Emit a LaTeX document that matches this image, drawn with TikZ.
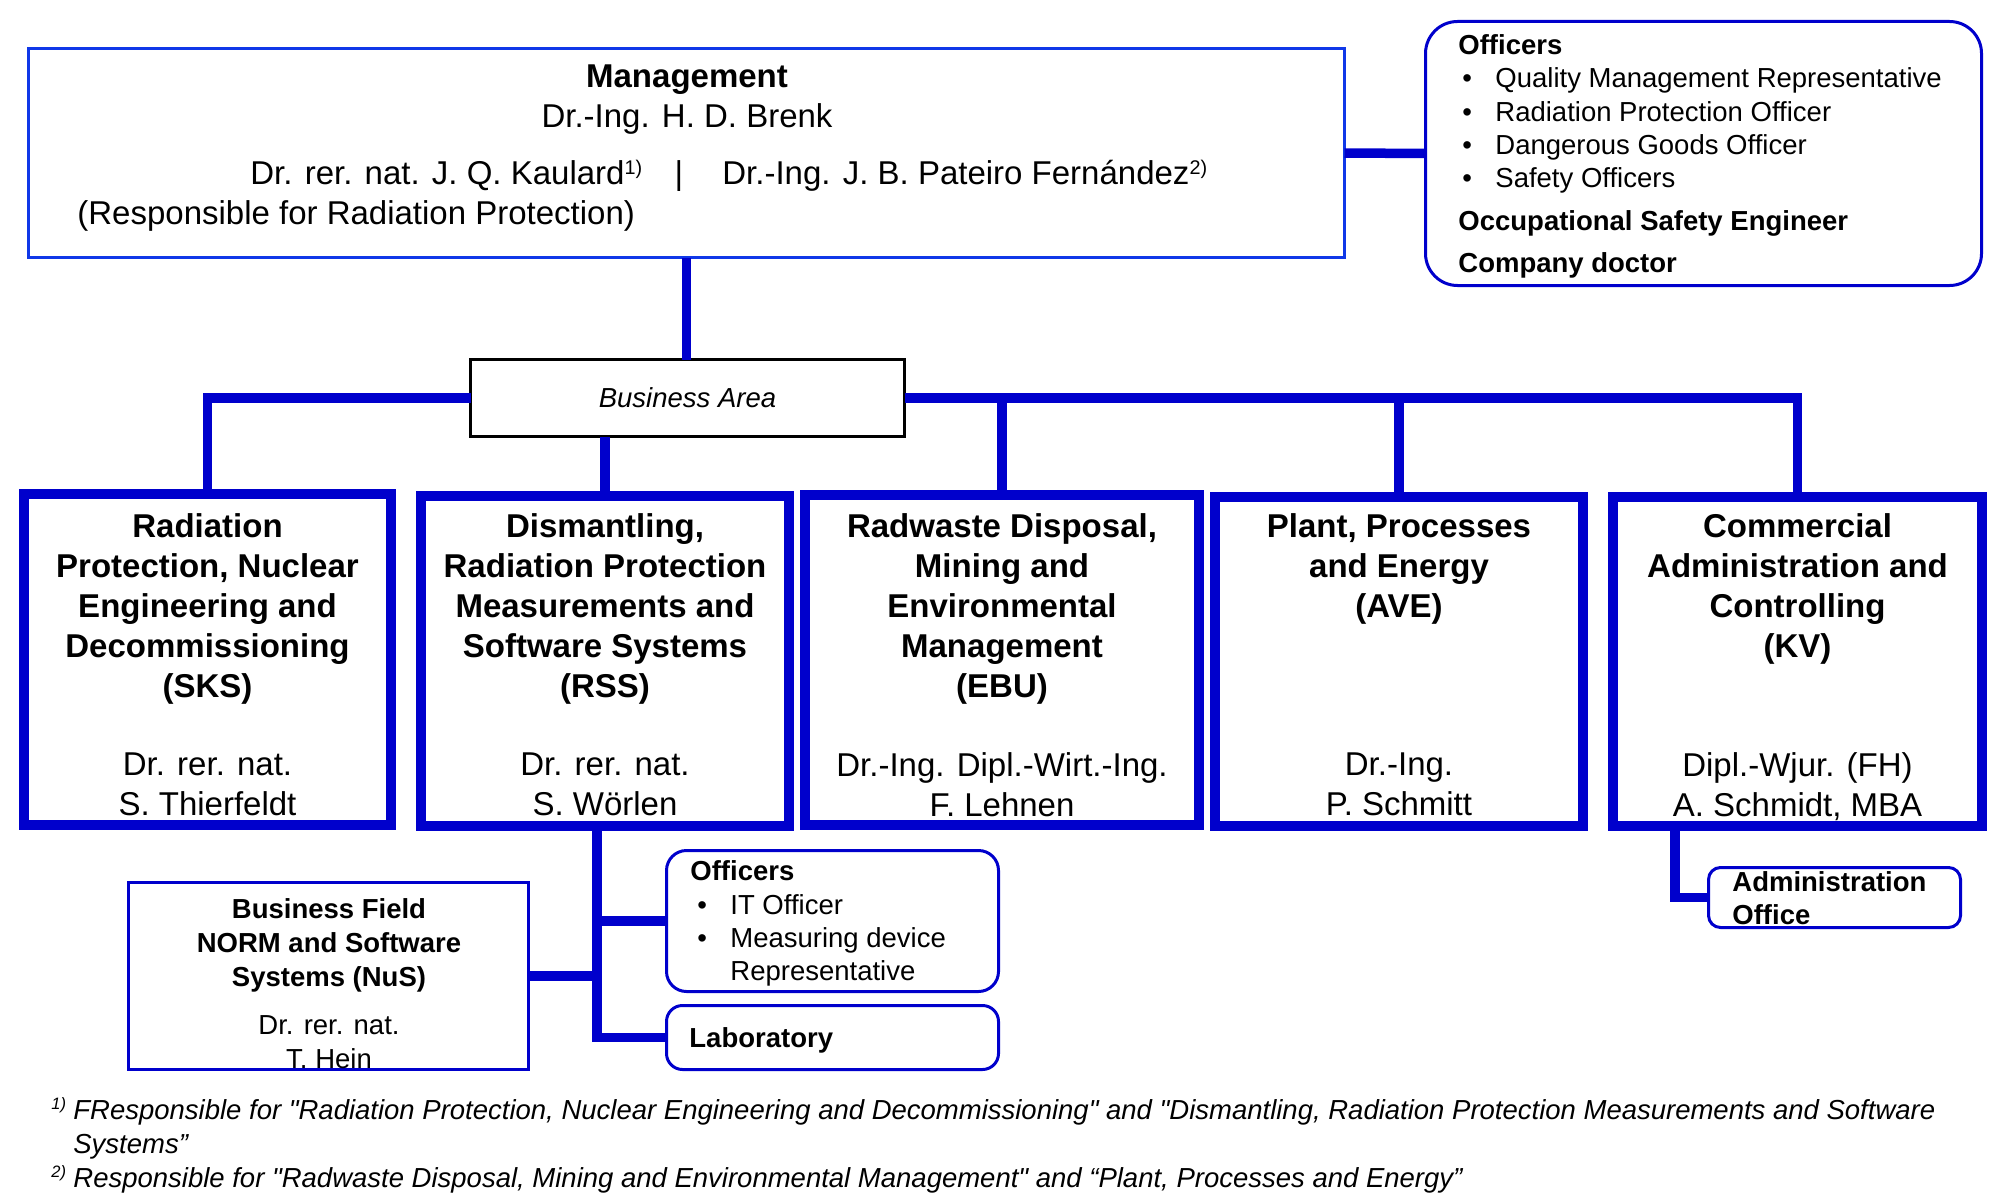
\documentclass[tikz,border=0pt]{standalone}
\usepackage{fontspec}
\setmainfont{Liberation Sans}
\newfontfamily\fnfont{Liberation Sans}[Ligatures=TeXOff]
\usepackage{graphicx}
\definecolor{dblue}{RGB}{0,0,204}
\definecolor{mblue}{RGB}{16,56,232}
\newcommand\bigf{\fontsize{16.5pt}{20pt}\selectfont}
\newcommand\smf{\fontsize{13.75pt}{17pt}\selectfont}
\newcommand\supx[1]{\raisebox{0.33em}{\scalebox{0.6}{#1}}}
\begin{document}
\begin{tikzpicture}[x=0.5pt,y=-0.5pt,
  thickbox/.style={draw=dblue, line width=5pt, rectangle, inner sep=0pt, outer sep=0pt, fill=white},
  thinbox/.style={draw=dblue, line width=1.5pt, rectangle, inner sep=0pt, outer sep=0pt, fill=white},
  conn/.style={draw=dblue, line width=4.75pt},
  title/.style={anchor=north, align=center, inner sep=0pt, font=\bigf\bfseries},
  person/.style={anchor=north, align=center, inner sep=0pt, font=\bigf},
  txt/.style={anchor=base west, inner sep=0pt, font=\smf},
  btxt/.style={anchor=base west, inner sep=0pt, font=\smf\bfseries},
  itxt/.style={anchor=base west, inner sep=0pt, font=\fnfont\smf\itshape},
  mtxt/.style={anchor=base west, inner sep=0pt, font=\bigf}
]
\fill[white] (0,0) rectangle (2000,1198);
\useasboundingbox (0,0) rectangle (2000,1198);

% ---------- boxes ----------
\node[thinbox, draw=mblue, minimum width=658pt, minimum height=104.5pt] (mgmt) at (686.5,153) {};
\node[thinbox, rounded corners=16pt, minimum width=278pt, minimum height=132pt] (offtop) at (1703.5,153.5) {};
\node[thinbox, draw=black, minimum width=217pt, minimum height=38.5pt, font=\smf\itshape] (biz) at (687.5,398) {Business Area};

\node[thickbox, minimum width=183.5pt, minimum height=165.5pt] (sks) at (207.5,659.5) {};
\node[thickbox, minimum width=184pt, minimum height=165pt] (rss) at (605,661) {};
\node[thickbox, minimum width=197pt, minimum height=165pt] (ebu) at (1002,660) {};
\node[thickbox, minimum width=184pt, minimum height=164.5pt] (ave) at (1399,661.5) {};
\node[thickbox, minimum width=184.5pt, minimum height=164.5pt] (kv) at (1797.5,661.5) {};

\node[thinbox, minimum width=200pt, minimum height=93.5pt] (nus) at (328.5,976) {};
\node[thinbox, rounded corners=10pt, minimum width=166pt, minimum height=70.5pt] (offrss) at (832.5,921) {};
\node[thinbox, rounded corners=8pt, minimum width=166pt, minimum height=32pt] (lab) at (832.5,1037.5) {};
\node[thinbox, rounded corners=6pt, minimum width=126pt, minimum height=30pt] (admin) at (1834.5,897.5) {};

% ---------- connectors ----------
\draw[conn] (mgmt.east) -- (offtop.west);
\draw[conn] (mgmt.south) -- (mgmt.south |- biz.north);
\draw[conn] (biz.west) -| (sks.north);
\draw[conn] (biz.east) -| (kv.north);
\draw[conn] (rss.north) -- (rss.north |- biz.south);
\draw[conn] (ebu.north) -- (ebu.north |- biz.east);
\draw[conn] (ave.north) -- (ave.north |- biz.east);
\coordinate (rssdrop) at ([xshift=-4pt]rss.south);
\draw[conn] (rssdrop) |- (lab.west);
\draw[conn] (rssdrop |- offrss.west) -- (offrss.west);
\draw[conn] (nus.east) -- (nus.east -| rssdrop);
\coordinate (kvdrop) at ([xshift=31pt]kv.south west);
\draw[conn] (kvdrop) |- (admin.west);

% ---------- management text ----------
\node[anchor=north, align=center, inner sep=0pt, font=\bigf] (mg1) at (687,64) {\textbf{Management}\\Dr.-Ing. H. D. Brenk};
\node[mtxt] (mg2) at (250,185) {Dr. rer. nat. J. Q. Kaulard\supx{1)}};
\node[anchor=base, inner sep=0pt, font=\bigf] (mg3) at (679,185) {|};
\node[mtxt] (mg4) at (722,185) {Dr.-Ing. J. B. Pateiro Fernández\supx{2)}};
\node[mtxt] (mg5) at (77,225) {(Responsible for Radiation Protection)};

% ---------- top officers ----------
\node[btxt] (o0) at (1458,55) {Officers};
\node[txt] (ob1) at (1462,88) {•};
\node[txt] (o1) at (1495,88) {Quality Management Representative};
\node[txt] (ob2) at (1462,122) {•};
\node[txt] (o2) at (1495,122) {Radiation Protection Officer};
\node[txt] (ob3) at (1462,155) {•};
\node[txt] (o3) at (1495,155) {Dangerous Goods Officer};
\node[txt] (ob4) at (1462,188) {•};
\node[txt] (o4) at (1495,188) {Safety Officers};
\node[btxt] (o5) at (1458,230) {Occupational Safety Engineer};
\node[btxt] (o6) at (1458,272) {Company doctor};

% ---------- department texts ----------
\node[title] (sksT) at (207.5,513) {Radiation\\Protection, Nuclear\\Engineering and\\Decommissioning\\(SKS)};
\node[person] (sksP) at (207.5,752) {Dr. rer. nat.\\S. Thierfeldt};
\node[title] (rssT) at (605,513) {Dismantling,\\Radiation Protection\\Measurements and\\Software Systems\\(RSS)};
\node[person] (rssP) at (605,752) {Dr. rer. nat.\\S. Wörlen};
\node[title] (ebuT) at (1002,513) {Radwaste Disposal,\\Mining and\\Environmental\\Management\\(EBU)};
\node[person] (ebuP) at (1002,752) {Dr.-Ing. Dipl.-Wirt.-Ing.\\F. Lehnen};
\node[title] (aveT) at (1399,513) {Plant, Processes\\and Energy\\(AVE)};
\node[person] (aveP) at (1399,752) {Dr.-Ing.\\P. Schmitt};
\node[title] (kvT) at (1797.5,513) {Commercial\\Administration and\\Controlling\\(KV)};
\node[person] (kvP) at (1797.5,752) {Dipl.-Wjur. (FH)\\A. Schmidt, MBA};

% ---------- lower boxes text ----------
\node[anchor=north, align=center, inner sep=0pt, font=\smf\bfseries] (nusT) at (329,898) {Business Field\\NORM and Software\\Systems (NuS)};
\node[anchor=north, align=center, inner sep=0pt, font=\smf] (nusP) at (329,1015) {Dr. rer. nat.\\T. Hein};

\node[btxt] (r0) at (690,880) {Officers};
\node[txt] (rb1) at (697,914) {•};
\node[txt] (r1) at (730,914) {IT Officer};
\node[txt] (rb2) at (697,947) {•};
\node[txt] (r2) at (730,947) {Measuring device};
\node[txt] (r3) at (730,980) {Representative};
\node[btxt] (labT) at (689,1047) {Laboratory};

\node[btxt] (ad1) at (1732,891) {Administration};
\node[btxt] (ad2) at (1732,924) {Office};

% ---------- footnotes ----------
\node[itxt] (f1s) at (51,1119) {\supx{1)}};
\node[itxt] (f1) at (73,1119) {FResponsible for "Radiation Protection, Nuclear Engineering and Decommissioning" and "Dismantling, Radiation Protection Measurements and Software};
\node[itxt] (f2) at (73,1153) {Systems”};
\node[itxt] (f3s) at (51,1187) {\supx{2)}};
\node[itxt] (f3) at (73,1187) {Responsible for "Radwaste Disposal, Mining and Environmental Management" and “Plant, Processes and Energy”};
\end{tikzpicture}
\end{document}
